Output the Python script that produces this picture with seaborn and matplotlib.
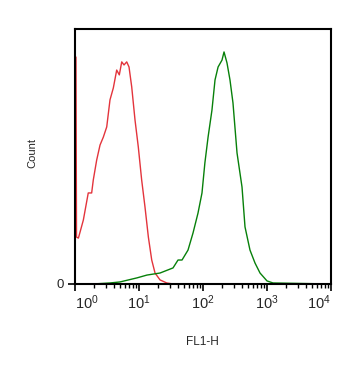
import numpy as np
import pandas as pd
import matplotlib
matplotlib.use("Agg")
import matplotlib.pyplot as plt
import matplotlib.ticker as mticker
import seaborn as sns

# FL1-H values and counts
red_fl1 = [1.035, 1.055, 1.13, 1.35, 1.61, 1.82, 1.93, 2.18, 2.46, 2.77, 3.13, 3.52,
           3.97, 4.48, 4.92, 5.37, 5.83, 6.43, 6.98, 7.69, 8.66, 9.75, 11.0, 12.4,
           14.0, 15.8, 17.8, 21.3, 27.1, 34.0, 1000, 10000]
red_count = [89.0, 18.4, 18.0, 25.1, 35.7, 35.7, 40.8, 48.6, 54.5, 57.6, 61.6, 72.2,
             76.9, 83.9, 82.0, 87.1, 85.9, 87.1, 85.1, 77.3, 64.3, 53.7, 40.8, 30.2,
             18.4, 9.4, 4.3, 1.6, 0.4, 0.0, 0.0, 0.0]

green_fl1 = [1.00, 1.91, 3.52, 5.05, 9.31, 13.3, 21.3, 34.0, 40.7, 47.0, 58.3, 69.8,
             83.5, 96.4, 107, 120, 138, 154, 172, 198, 213, 237, 264, 294, 340,
             407, 453, 542, 650, 778, 1000, 1240, 10000]
green_count = [0.0, 0.0, 0.4, 0.8, 2.4, 3.5, 4.3, 6.3, 9.4, 9.4, 13.3, 20.0,
               27.8, 35.7, 47.5, 57.6, 68.2, 80.0, 85.1, 87.8, 91.0, 86.7, 80.0, 71.0, 51.4,
               38.0, 22.4, 13.3, 8.2, 4.3, 1.2, 0.4, 0.0]

x_ticks = [1, 10, 100, 1000, 10000]
x_tick_labels = [r"$10^{0}$", r"$10^{1}$", r"$10^{2}$", r"$10^{3}$", r"$10^{4}$"]

sns.set_style("ticks")
plt.rcParams["font.family"] = ["Liberation Sans", "DejaVu Sans"]
plt.rcParams["mathtext.fontset"] = "custom"
plt.rcParams["mathtext.rm"] = "Liberation Sans"
plt.rcParams["mathtext.it"] = "Liberation Sans"

df_red = pd.DataFrame({"FL1-H": red_fl1, "Count": red_count})
df_green = pd.DataFrame({"FL1-H": green_fl1, "Count": green_count})

fig = plt.figure(figsize=(3.37, 3.68), dpi=100)
ax = fig.add_axes([0.2226, 0.2283, 0.7596, 0.6929])

sns.lineplot(data=df_red, x="FL1-H", y="Count", color="#e3343c",
             linewidth=1.0, ax=ax, sort=False)
sns.lineplot(data=df_green, x="FL1-H", y="Count", color="#07800a",
             linewidth=1.0, ax=ax, sort=False)

ax.set_xscale("log")
ax.set_xlim(1, 10000)
ax.set_ylim(0, 100)

ax.set_xticks(x_ticks)
ax.set_xticklabels(x_tick_labels, fontsize=10.5)
ax.xaxis.set_minor_locator(mticker.LogLocator(base=10, subs=np.arange(2, 10)))
ax.xaxis.set_minor_formatter(mticker.NullFormatter())
labels = ax.get_xticklabels()
labels[0].set_horizontalalignment("left")
labels[-1].set_horizontalalignment("right")

ax.set_yticks([0])
ax.set_yticklabels(["0"], fontsize=9.5)

ax.tick_params(axis="x", which="major", length=5, width=1.2, pad=2, color="black")
ax.tick_params(axis="x", which="minor", length=3, width=1.0, color="black")
ax.tick_params(axis="y", which="major", length=5, width=1.2, pad=3, color="black")

for side in ["left", "right", "top", "bottom"]:
    ax.spines[side].set_visible(True)
    ax.spines[side].set_color("black")
    ax.spines[side].set_linewidth(1.5)

ax.set_xlabel("FL1-H", fontsize=8.5)
ax.set_ylabel("Count", fontsize=8)
ax.xaxis.set_label_coords(0.496, -0.205)
ax.yaxis.set_label_coords(-0.148, 0.512)

fig.savefig("out.png", dpi=100)
